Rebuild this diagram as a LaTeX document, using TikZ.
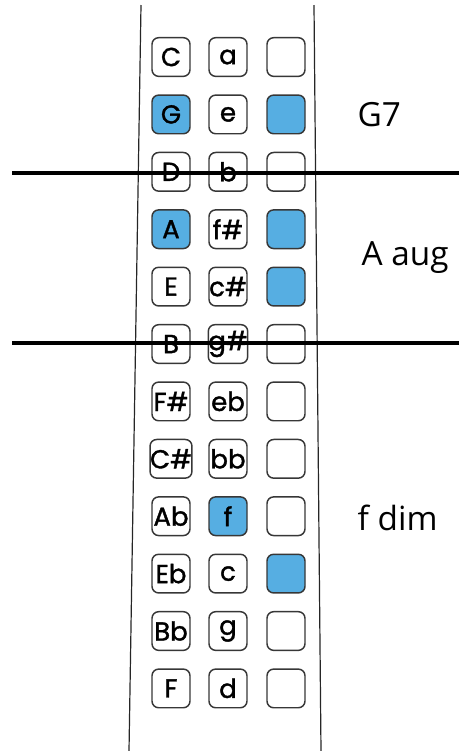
\documentclass[tikz,border=0pt]{standalone}
\usepackage{fontspec}
\setmainfont{Open Sans}
\newfontfamily\keyfont[FakeBold=1.4]{Poppins}
\definecolor{keyblue}{RGB}{86,174,226}
\definecolor{keyedge}{RGB}{55,55,55}
\begin{document}
\begin{tikzpicture}[x=0.75pt,y=-0.75pt,
  key/.style={draw=keyedge, line width=1.1pt, rounded corners=5pt,
    minimum width=28.5pt, minimum height=29pt, inner sep=0pt,
    font=\keyfont\fontsize{19.5}{19.5}\selectfont, fill=white},
  on/.style={fill=keyblue},
  rail/.style={line width=0.9pt, black!85},
  cut/.style={line width=2.3pt, black},
  chord/.style={font=\fontsize{25}{25}\selectfont, anchor=west}]
\useasboundingbox (0,0) rectangle (459,751);
% the two rails of the strip
\coordinate (rl1) at (141,5);  \coordinate (rl2) at (129,751);
\coordinate (rr1) at (314,5);  \coordinate (rr2) at (321,751);
\draw[rail] (rl1) -- (rl2);
\draw[rail] (rr1) -- (rr2);
% keys: major note, minor note, marker
\foreach \i/\M/\m/\sa/\sb/\sc in {
  1/C/a/{}/{}/{},
  2/G/e/on/{}/on,
  3/D/b/{}/{}/{},
  4/A/f\#/on/{}/on,
  5/E/c\#/{}/{}/on,
  6/B/g\#/{}/{}/{},
  7/F\#/eb/{}/{}/{},
  8/C\#/bb/{}/{}/{},
  9/Ab/f/{}/on/{},
  10/Eb/c/{}/{}/on,
  11/Bb/g/{}/{}/{},
  12/F/d/{}/{}/{}}{
  \pgfmathsetmacro{\yy}{57+57.4*(\i-1)}
  \node[key,\sa] (maj\i) at (171,\yy) {\M};
  \node[key,\sb] (min\i) at (228,\yy) {\m};
  \node[key,\sc] (mk\i)  at (286,\yy) {};
}
% cut lines across the strip
\coordinate (c1a) at (12,173); \coordinate (c1b) at (459,173);
\coordinate (c2a) at (12,343); \coordinate (c2b) at (459,343);
\draw[cut] (c1a) -- (c1b);
\draw[cut] (c2a) -- (c2b);
% chord names
\node[chord] (g7)   at (353,115) {G7};
\node[chord] (aaug) at (357,258) {A aug};
\node[chord] (fdim) at (353,518) {f dim};
\end{tikzpicture}
\end{document}
